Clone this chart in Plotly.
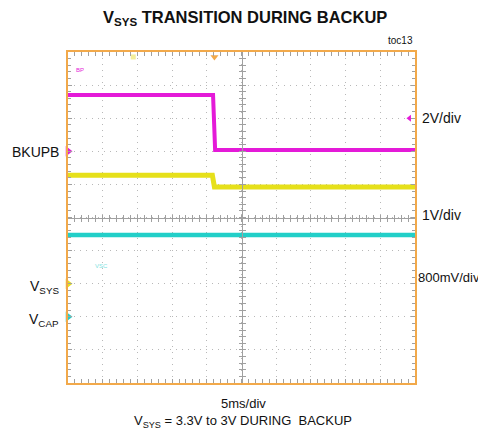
import plotly.graph_objects as go

# time axis: ms relative to screen centre, 5 ms/div, 10 divisions
time_ms = [-25, -4.1, -3.8, 25]
time_vsys = [-25, -4.2, -3.9, 25]

# channel values (volts)
bkupb_v = [3.4, 3.4, 0.08, 0.08]
vsys_v = [3.28, 3.28, 2.92, 2.92]
vcap_v = [1.98, 1.98, 1.98, 1.98]

# channel settings: volts/div and ground position in divisions from centre
bkupb_scale, bkupb_gnd = 2.0, 2.0
vsys_scale, vsys_gnd = 1.0, -2.0
vcap_scale, vcap_gnd = 0.8, -3.0

trig_time = [-3.9]
trig_level = [2.0]
cursor_time = [-15.6]

MAG = "#e41ad8"
YEL = "#e6e01a"
CYN = "#22cfc8"
FRAME = "#f2a94a"
GRID = "#b8b8b8"
TICK = "#a0a0a0"
FONT = "Liberation Sans, Arial, sans-serif"


def ch_range(scale, gnd):
    return [(-5 - gnd) * scale, (5 - gnd) * scale]


fig = go.Figure()

fig.add_trace(go.Scatter(x=time_ms, y=bkupb_v, mode="lines", yaxis="y2",
                         line=dict(color=MAG, width=4), hoverinfo="skip"))
fig.add_trace(go.Scatter(x=time_vsys, y=vsys_v, mode="lines", yaxis="y3",
                         line=dict(color=YEL, width=5), hoverinfo="skip"))
fig.add_trace(go.Scatter(x=time_ms, y=vcap_v, mode="lines", yaxis="y4",
                         line=dict(color=CYN, width=4.5), hoverinfo="skip"))

# ground markers at left edge
for ax, col in (("y2", MAG), ("y3", YEL), ("y4", CYN)):
    fig.add_trace(go.Scatter(x=[-25], y=[0], mode="markers", yaxis=ax, cliponaxis=False,
                             marker=dict(symbol="triangle-right", size=9, color=col),
                             hoverinfo="skip"))
# trigger level marker (right), trigger position and cursor (top)
fig.add_trace(go.Scatter(x=[24.2], y=trig_level, mode="markers", yaxis="y2", cliponaxis=False,
                         marker=dict(symbol="triangle-left", size=6, color=MAG), hoverinfo="skip"))
fig.add_trace(go.Scatter(x=trig_time, y=[4.85], mode="markers", yaxis="y", cliponaxis=False,
                         marker=dict(symbol="triangle-down", size=7, color=FRAME), hoverinfo="skip"))
fig.add_trace(go.Scatter(x=cursor_time, y=[4.85], mode="markers", yaxis="y", cliponaxis=False,
                         marker=dict(symbol="square", size=5, color="#f3ee9a"), hoverinfo="skip"))

frame_axis = dict(showline=True, linecolor=FRAME, linewidth=2, mirror="allticks",
                  ticks="inside", ticklen=4, tickcolor=TICK, tickwidth=1,
                  showticklabels=False, showgrid=True, gridcolor=GRID, griddash="1px,5px",
                  gridwidth=1, zeroline=False)

centre = dict(showline=True, linecolor=TICK, linewidth=1, ticks="inside", ticklen=3,
              tickcolor=TICK, showticklabels=False, showgrid=False, zeroline=False,
              anchor="free", position=0.5)


def minor(step):
    return dict(dtick=step, ticks="inside", ticklen=3, tickcolor=TICK, showgrid=False)


fig.update_layout(
    width=478, height=427,
    margin=dict(l=60, r=71, t=44, b=52),
    paper_bgcolor="white", plot_bgcolor="white",
    showlegend=False,
    font=dict(family=FONT, color="#111"),
    xaxis=dict(range=[-25, 25], dtick=5, minor=minor(1), **frame_axis),
    yaxis=dict(range=[-5, 5], dtick=1, minor=minor(0.2), **frame_axis),
    xaxis2=dict(overlaying="x", range=[-25, 25], dtick=5, side="bottom", minor=minor(1), **centre),
    xaxis3=dict(overlaying="x", range=[-25, 25], dtick=5, side="top", minor=minor(1), **centre),
    yaxis2=dict(overlaying="y", range=ch_range(bkupb_scale, bkupb_gnd), visible=False),
    yaxis3=dict(overlaying="y", range=ch_range(vsys_scale, vsys_gnd), visible=False),
    yaxis4=dict(overlaying="y", range=ch_range(vcap_scale, vcap_gnd), visible=False),
    yaxis5=dict(overlaying="y", range=[-5, 5], dtick=1, side="left", minor=minor(0.2), **centre),
    yaxis6=dict(overlaying="y", range=[-5, 5], dtick=1, side="right", minor=minor(0.2), **centre),
)

# hidden helper traces so the centre graticule axes get drawn
fig.add_trace(go.Scatter(x=[None], y=[None], xaxis="x2", yaxis="y5", hoverinfo="skip"))
fig.add_trace(go.Scatter(x=[None], y=[None], xaxis="x3", yaxis="y6", hoverinfo="skip"))


def note(text, x, y, size=14, xanchor="center", color="#111", bold=False):
    if bold:
        text = "<b>" + text + "</b>"
    fig.add_annotation(text=text, x=x, y=y, xref="paper", yref="paper", showarrow=False,
                       xanchor=xanchor, yanchor="middle", font=dict(size=size, color=color, family=FONT))


# page-pixel helpers (plot area spans x 68-415, y 52-383 on the page)
W, H = 347.0, 331.0
def px(xp):
    return (xp - 68) / W
def py(yp):
    return (383 - yp) / H

note("V<sub>SYS</sub> TRANSITION DURING BACKUP", px(245), py(18), size=16.5, bold=True)
note("toc13", px(415), py(40), size=10, xanchor="right")
note("BKUPB", px(61), py(152), size=14, xanchor="right")
note("V<sub>SYS</sub>", px(61), py(287), size=14, xanchor="right")
note("V<sub>CAP</sub>", px(61), py(320), size=14, xanchor="right")
note("2V/div", px(420), py(118), size=14, xanchor="left")
note("1V/div", px(420), py(215), size=14, xanchor="left")
note("800mV/div", px(416), py(277), size=13, xanchor="left")
note("5ms/div", px(243), py(403), size=13)
note("V<sub>SYS</sub> = 3.3V to 3V DURING  BACKUP", px(243), py(421), size=13)
note("BP", px(80), py(70), size=6, color=MAG)
note("VSC", px(101), py(266), size=6, color="#7fe3df")

fig.write_html("out.html")
